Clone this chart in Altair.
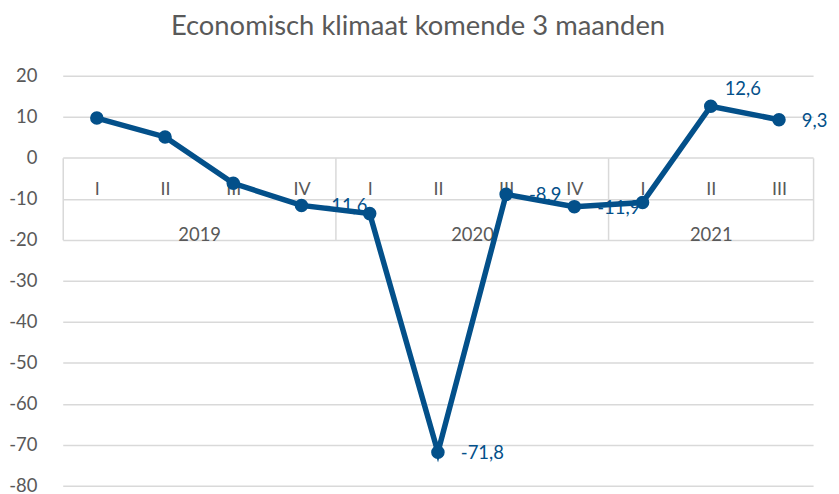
import altair as alt
import pandas as pd

quarters = ["I", "II", "III", "IV", "I", "II", "III", "IV", "I", "II", "III"]
years = [2019, 2019, 2019, 2019, 2020, 2020, 2020, 2020, 2021, 2021, 2021]
values = [9.7, 5.1, -6.2, -11.6, -13.6, -71.8, -8.9, -11.9, -10.9, 12.6, 9.3]
data_labels = ["", "", "", "-11,6", "", "-71,8", "-8,9", "-11,9", "", "12,6", "9,3"]
label_above = ["12,6"]

y_ticks = list(range(-80, 21, 10))
title_text = "Economisch klimaat komende 3 maanden"

BLUE = "#03508A"
GREY = "#595959"
GRID = "#D9D9D9"
FONT = "Lato"

idx = list(range(len(values)))
df = pd.DataFrame({"idx": idx, "quarter": quarters, "year": years,
                   "value": values, "label": data_labels})

year_list = sorted(set(years))
year_first = [min(i for i in idx if years[i] == y) for y in year_list]
year_last = [max(i for i in idx if years[i] == y) for y in year_list]
year_centers = [(a + b) / 2 for a, b in zip(year_first, year_last)]
year_bounds = [a - 0.5 for a in year_first] + [year_last[-1] + 0.5]

W, H = 754, 412
y_dom = [y_ticks[0], y_ticks[-1]]
px_per_unit = H / (y_dom[1] - y_dom[0])
zero_px = H * y_dom[1] / (y_dom[1] - y_dom[0])
axis_offset = -(H - zero_px)

xscale = alt.Scale(domain=[-0.5, len(values) - 0.5], nice=False, zero=False)
yscale = alt.Scale(domain=y_dom, nice=False, zero=False)

q_expr = "[" + ",".join("'%s'" % q for q in quarters) + "][datum.value]"
y_expr = " : ".join("datum.value == %s ? '%d'" % (c, y) for c, y in zip(year_centers, year_list)) + " : ''"
above_list = "[" + ",".join("'%s'" % s for s in label_above) + "]"

quarter_axis = alt.Axis(orient="bottom", offset=axis_offset, values=idx, labelExpr=q_expr,
                        ticks=False, tickSize=0, domain=False, grid=False, title=None,
                        labelFont=FONT, labelFontSize=18, labelColor=GREY, labelPadding=23,
                        labelFlush=False, labelOverlap=False)
sep_axis = alt.Axis(orient="bottom", offset=axis_offset, values=year_bounds, labels=False,
                    ticks=True, tickSize=20 * px_per_unit,
                    tickColor=GRID, tickWidth=1.5, domain=False, grid=False, title=None)
year_axis = alt.Axis(orient="bottom", offset=axis_offset, values=year_centers, labelExpr=y_expr,
                     ticks=False, tickSize=0, domain=False, grid=False, title=None,
                     labelFont=FONT, labelFontSize=18.5, labelColor=GREY, labelPadding=68,
                     labelFlush=False, labelOverlap=False)
y_axis = alt.Axis(orient="left", values=y_ticks, domain=False, ticks=False, grid=True, gridColor=GRID,
                  gridWidth=1.5, labelFont=FONT, labelFontSize=18.5, labelColor=GREY,
                  labelPadding=26, title=None, labelExpr="toString(datum.value)")

base = alt.Chart(df)

labels_right = base.transform_filter(
    "datum.label != '' && indexof(%s, datum.label) < 0" % above_list
).mark_text(align="left", baseline="middle", dx=23, dy=1, font=FONT, fontSize=18.5, color=BLUE).encode(
    x=alt.X("idx:Q", scale=xscale, axis=sep_axis),
    y=alt.Y("value:Q", scale=yscale, axis=y_axis),
    text="label:N",
)
labels_top = base.transform_filter(
    "indexof(%s, datum.label) >= 0" % above_list
).mark_text(align="left", baseline="middle", dx=14, dy=-17, font=FONT, fontSize=18.5, color=BLUE).encode(
    x=alt.X("idx:Q", scale=xscale, axis=None),
    y=alt.Y("value:Q", scale=yscale, axis=None),
    text="label:N",
)
line = base.mark_line(color=BLUE, strokeWidth=5.5).encode(
    x=alt.X("idx:Q", scale=xscale, axis=quarter_axis),
    y=alt.Y("value:Q", scale=yscale, axis=None),
)
points = base.mark_point(filled=True, opacity=1, color=BLUE, size=185).encode(
    x=alt.X("idx:Q", scale=xscale, axis=year_axis),
    y=alt.Y("value:Q", scale=yscale, axis=None),
)

chart = alt.layer(labels_right, labels_top, line, points).resolve_axis(
    x="independent", y="independent"
).properties(
    width=W, height=H,
    padding={"left": 55, "top": 67, "right": 18, "bottom": 8},
    autosize=alt.AutoSizeParams(type="none"),
    title=alt.TitleParams(title_text, font=FONT, fontSize=27.5, fontWeight="normal",
                          color=GREY, anchor="middle", dx=-20, offset=27),
).configure_view(stroke=None)

chart.save("out.html", embed_options={"renderer": "svg", "actions": False})
